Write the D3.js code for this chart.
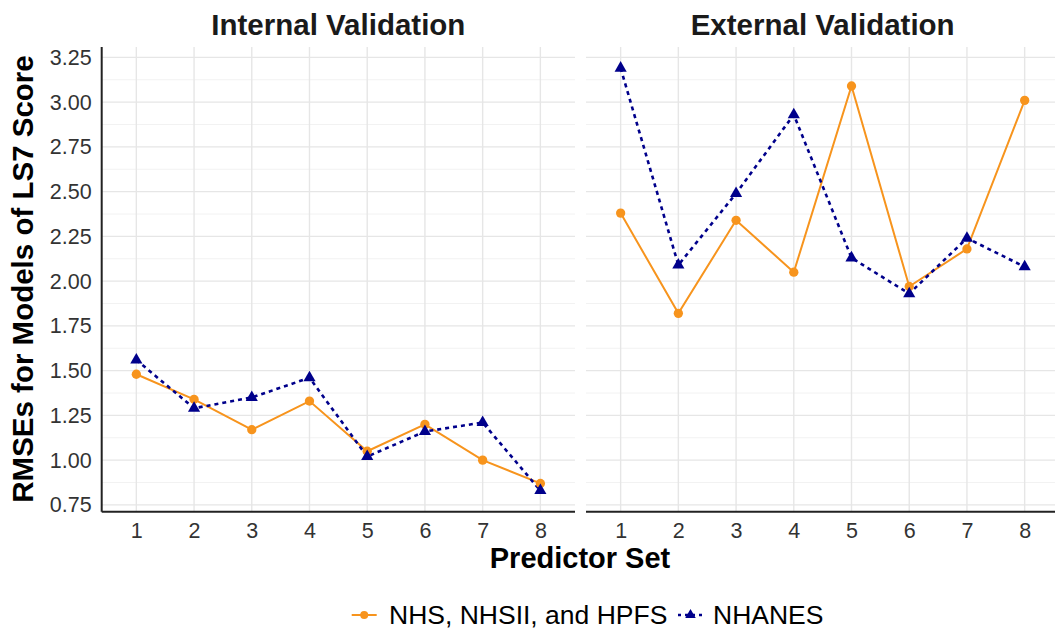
<!DOCTYPE html>
<html>
<head>
<meta charset="utf-8">
<script src="https://cdn.jsdelivr.net/npm/d3@7"></script>
<style>
  body { margin: 0; background: #fff; }
  svg { display: block; font-family: "Liberation Sans", Arial, sans-serif; }
</style>
</head>
<body>
<svg id="chart" width="1055" height="635"></svg>
<script>
// data
const predictorSets = [1, 2, 3, 4, 5, 6, 7, 8];
const panels = ["Internal Validation", "External Validation"];
const seriesNames = ["NHS, NHSII, and HPFS", "NHANES"];

const internalNHS    = [1.48, 1.34, 1.17, 1.33, 1.05, 1.20, 1.00, 0.87];
const internalNHANES = [1.56, 1.29, 1.35, 1.46, 1.02, 1.16, 1.21, 0.83];
const externalNHS    = [2.38, 1.82, 2.34, 2.05, 3.09, 1.97, 2.18, 3.01];
const externalNHANES = [3.19, 2.09, 2.49, 2.93, 2.13, 1.93, 2.24, 2.08];

const yTicks = [0.75, 1.00, 1.25, 1.50, 1.75, 2.00, 2.25, 2.50, 2.75, 3.00, 3.25];

const colors = ["#F7941D", "#00008B"];
const dashes = [null, "4,4"];

const svg = d3.select("#chart");

// layout
const panelTop = 47, panelBottom = 511.7;
const panelX = [[101.7, 575], [586, 1059.3]];

// y scale, ggplot style 5% expansion
const allVals = internalNHS.concat(internalNHANES, externalNHS, externalNHANES);
const yMin = d3.min(allVals), yMax = d3.max(allVals);
const pad = (yMax - yMin) * 0.05;
const y = d3.scaleLinear().domain([yMin - pad, yMax + pad]).range([panelBottom, panelTop]);

const minorTicks = yTicks.slice(0, -1).map(d => d + 0.125);

const panelData = [
  [internalNHS, internalNHANES],
  [externalNHS, externalNHANES]
];

panels.forEach((title, p) => {
  const [x0, x1] = panelX[p];
  const x = d3.scalePoint().domain(predictorSets).range([x0, x1]).padding(0.6);
  const g = svg.append("g").attr("class", "panel");

  // gridlines
  g.selectAll(".minor").data(minorTicks).join("line")
    .attr("x1", x0).attr("x2", x1)
    .attr("y1", d => y(d)).attr("y2", d => y(d))
    .attr("stroke", "#f2f2f2").attr("stroke-width", 1);
  g.selectAll(".major").data(yTicks).join("line")
    .attr("x1", x0).attr("x2", x1)
    .attr("y1", d => y(d)).attr("y2", d => y(d))
    .attr("stroke", "#e6e6e6").attr("stroke-width", 1.4);
  g.selectAll(".vgrid").data(predictorSets).join("line")
    .attr("x1", d => x(d)).attr("x2", d => x(d))
    .attr("y1", panelTop).attr("y2", panelBottom)
    .attr("stroke", "#e6e6e6").attr("stroke-width", 1.4);

  // x axis
  const xAxis = g.append("g")
    .attr("transform", `translate(0,${panelBottom})`)
    .call(d3.axisBottom(x).tickSize(0).tickPadding(11))
    .attr("font-family", null)
    .attr("font-size", 21.5);
  xAxis.select(".domain").remove();
  xAxis.selectAll("text").attr("fill", "#333");
  g.append("line")
    .attr("x1", x0).attr("x2", x1)
    .attr("y1", panelBottom).attr("y2", panelBottom)
    .attr("stroke", "#222").attr("stroke-width", 2);

  // y axis only on the first panel
  if (p === 0) {
    const yAxis = g.append("g")
      .attr("transform", `translate(${x0},0)`)
      .call(d3.axisLeft(y).tickValues(yTicks).tickFormat(d3.format(".2f")).tickSize(0).tickPadding(10))
      .attr("font-family", null)
      .attr("font-size", 21.5);
    yAxis.select(".domain").remove();
    yAxis.selectAll("text").attr("fill", "#333");
    g.append("line")
      .attr("x1", x0).attr("x2", x0)
      .attr("y1", panelTop).attr("y2", panelBottom)
      .attr("stroke", "#222").attr("stroke-width", 2);
  }

  // panel title
  g.append("text")
    .attr("x", (x0 + x1) / 2).attr("y", 25)
    .attr("dy", "0.35em")
    .attr("text-anchor", "middle")
    .attr("font-size", 29.5).attr("font-weight", "bold")
    .attr("fill", "#1a1a1a")
    .text(title);

  const line = d3.line().x((d, i) => x(predictorSets[i])).y(d => y(d));

  // lines first, then points
  panelData[p].forEach((vals, s) => {
    g.append("path")
      .datum(vals)
      .attr("d", line)
      .attr("fill", "none")
      .attr("stroke", colors[s])
      .attr("stroke-width", s === 0 ? 2 : 2.6)
      .attr("stroke-dasharray", dashes[s]);
  });
  panelData[p].forEach((vals, s) => {
    const sym = d3.symbol().type(s === 0 ? d3.symbolCircle : d3.symbolTriangle).size(s === 0 ? 68 : 64);
    g.selectAll(".pt" + s).data(vals).join("path")
      .attr("class", "pt" + s)
      .attr("transform", (d, i) => `translate(${x(predictorSets[i])},${y(d)})`)
      .attr("d", sym)
      .attr("fill", colors[s]);
  });
});

// axis titles
svg.append("text")
  .attr("x", 580).attr("y", 558)
  .attr("dy", "0.35em")
  .attr("text-anchor", "middle")
  .attr("font-size", 29).attr("font-weight", "bold")
  .attr("fill", "#000")
  .text("Predictor Set");

svg.append("text")
  .attr("transform", "translate(23,279) rotate(-90)")
  .attr("dy", "0.35em")
  .attr("text-anchor", "middle")
  .attr("font-size", 29.5).attr("font-weight", "bold")
  .attr("fill", "#000")
  .text("RMSEs for Models of LS7 Score");

// legend
const legendY = 615;
const keyX = [351.7, 678];
const textX = [389, 713];
seriesNames.forEach((name, s) => {
  const lg = svg.append("g");
  lg.append("line")
    .attr("x1", keyX[s]).attr("x2", keyX[s] + 25)
    .attr("y1", legendY).attr("y2", legendY)
    .attr("stroke", colors[s])
    .attr("stroke-width", s === 0 ? 2 : 2.6)
    .attr("stroke-dasharray", s === 0 ? null : "3,4");
  lg.append("path")
    .attr("transform", `translate(${keyX[s] + 12.5},${legendY})`)
    .attr("d", d3.symbol().type(s === 0 ? d3.symbolCircle : d3.symbolTriangle).size(s === 0 ? 50 : 48))
    .attr("fill", colors[s]);
  lg.append("text")
    .attr("x", textX[s]).attr("y", legendY)
    .attr("dy", "0.35em")
    .attr("font-size", 26.5)
    .attr("fill", "#000")
    .text(name);
});
</script>
</body>
</html>
